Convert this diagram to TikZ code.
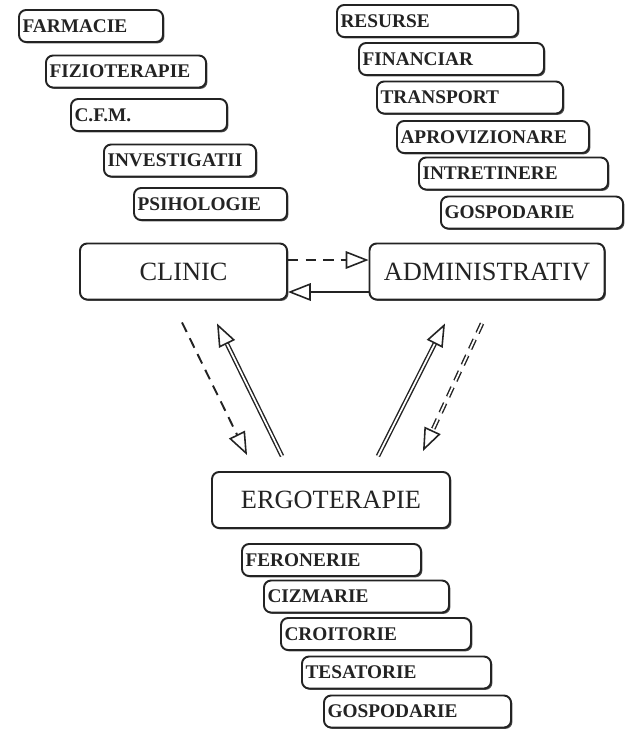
\documentclass[tikz,border=0pt]{standalone}
\usepackage{fontspec}
\setmainfont{Liberation Serif}
\usetikzlibrary{arrows.meta}
\usetikzlibrary{shadows}
\usetikzlibrary{calc}

\definecolor{ink}{RGB}{35,35,35}

\tikzset{
  stamp/.style={draw=ink, fill=white, line width=1.1pt, rounded corners=4pt,
        drop shadow={shadow xshift=0.8pt, shadow yshift=-0.8pt, fill=ink, opacity=0.8},
        inner xsep=2pt, align=left, minimum height=0.64cm,
        font=\fontsize{11}{12}\selectfont\bfseries, text=ink},
  bigstamp/.style={stamp, align=center, minimum height=1.12cm,
        font=\fontsize{15}{16}\selectfont, text=ink},
  flow/.style={draw=ink, line width=1.1pt, -{Triangle[open, length=13pt, width=10pt, line width=0.9pt]}},
  dflow/.style={flow, dash pattern=on 6pt off 4pt},
  twin/.style={double=white, double distance=1pt, line width=0.8pt}
}

\begin{document}
\begin{tikzpicture}[x=0.02cm, y=-0.02cm]

\useasboundingbox (0,0) rectangle (626,731);

%---------------------------------------
% Clinic departments (left)
%---------------------------------------
\node[stamp, text width=2.74cm] (farmacie) at (91,26)      {FARMACIE};
\node[stamp, text width=3.06cm] (fizio)    at (126,71.5)   {FIZIOTERAPIE};
\node[stamp, text width=2.98cm] (cfm)      at (149,115)    {C.F.M.};
\node[stamp, text width=2.90cm] (investig) at (180,160.5)  {INVESTIGATII};
\node[stamp, text width=2.92cm] (psiho)    at (210.5,204)  {PSIHOLOGIE};

%---------------------------------------
% Administrative departments (right)
%---------------------------------------
\node[stamp, text width=3.48cm] (resurse)  at (427.5,21)   {RESURSE};
\node[stamp, text width=3.56cm] (financ)   at (451.5,59)   {FINANCIAR};
\node[stamp, text width=3.58cm] (transp)   at (470,97.5)   {TRANSPORT};
\node[stamp, text width=3.70cm] (aprov)    at (493,137)    {APROVIZIONARE};
\node[stamp, text width=3.64cm] (intret)   at (513.5,173.5){INTRETINERE};
\node[stamp, text width=3.50cm] (gospA)    at (532,212.5)  {GOSPODARIE};

%---------------------------------------
% Main sections
%---------------------------------------
\node[bigstamp, minimum width=4.14cm] (clinic) at (183.5,271.5) {CLINIC};
\node[bigstamp, minimum width=4.7cm]  (admin)  at (487,271.5)   {ADMINISTRATIV};
\node[bigstamp, minimum width=4.76cm] (ergo)   at (331,500)     {ERGOTERAPIE};

%---------------------------------------
% Workshops (bottom)
%---------------------------------------
\node[stamp, text width=3.44cm] (feron)   at (331.5,560)   {FERONERIE};
\node[stamp, text width=3.56cm] (cizm)    at (356.5,596.5) {CIZMARIE};
\node[stamp, text width=3.66cm] (croit)   at (376,634)     {CROITORIE};
\node[stamp, text width=3.64cm] (tesat)   at (396.5,672.5) {TESATORIE};
\node[stamp, text width=3.60cm] (gospE)   at (417.5,711.5) {GOSPODARIE};

% Clinic <-> Administrativ
\draw[dflow] ([yshift=0.23cm]clinic.east) -- ([yshift=0.23cm]admin.west);
\draw[flow]  ([yshift=-0.41cm]admin.west) -- ([yshift=-0.41cm]clinic.east);

% Clinic <-> Ergoterapie
\draw[dflow] ([xshift=-0.03cm, yshift=-0.44cm]clinic.south) -- ([xshift=-1.68cm, yshift=0.32cm]ergo.north);
\draw[flow, twin] ([xshift=-0.98cm, yshift=0.30cm]ergo.north) -- ([xshift=0.67cm, yshift=-0.46cm]clinic.south);

% Administrativ <-> Ergoterapie
\draw[flow, twin] ([xshift=0.94cm, yshift=0.30cm]ergo.north) -- ([xshift=-0.84cm, yshift=-0.46cm]admin.south);
\draw[dflow, twin] ([xshift=-0.10cm, yshift=-0.46cm]admin.south) -- ([xshift=1.84cm, yshift=0.40cm]ergo.north);

\end{tikzpicture}
\end{document}
